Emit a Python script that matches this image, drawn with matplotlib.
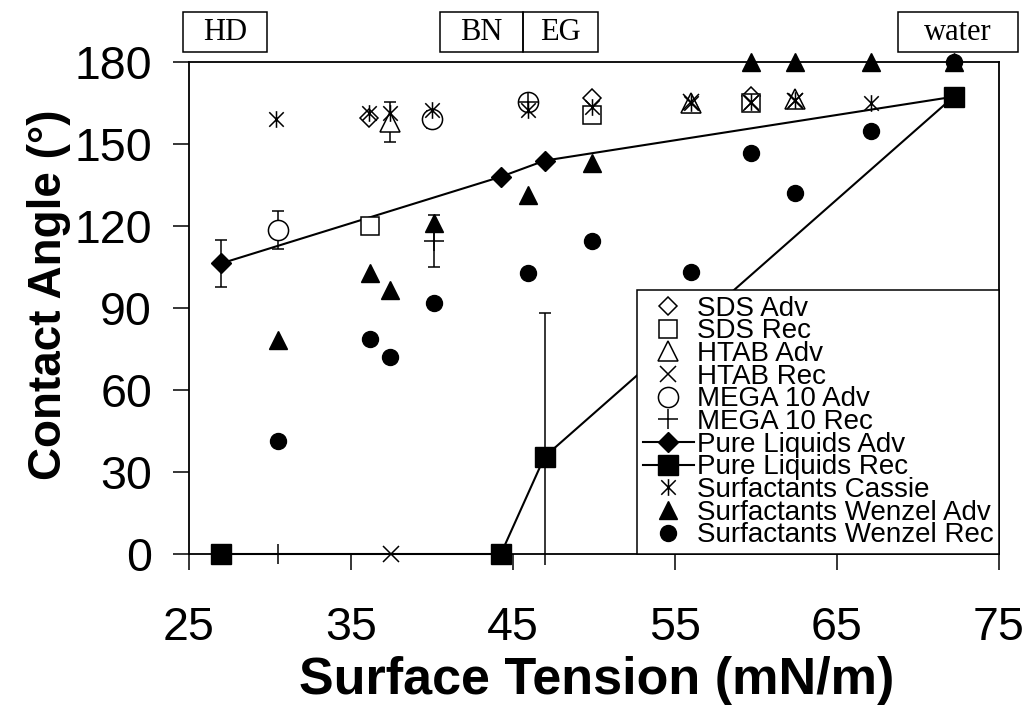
import matplotlib
matplotlib.use("Agg")
import numpy as np
import matplotlib.pyplot as plt
import matplotlib.transforms as mtransforms
from matplotlib.path import Path
from matplotlib.patches import Rectangle

plt.rcParams["font.family"] = ["Liberation Sans", "DejaVu Sans"]

# pure liquids (hexadecane, bromonaphthalene, ethylene glycol, water)
pure_x = [27.0, 44.25, 46.95, 72.2]
pure_adv = [106.4, 138.1, 144.0, 167.4]
pure_adv_err = [8.5, 0, 0, 0]
pure_rec = [0, 0, 35.6, 167.4]
pure_rec_err_lo = [0, 0, 39.6, 0]
pure_rec_err_hi = [0, 0, 52.5, 0]

# surfactant solutions
sds_adv_x = [36.1, 49.9, 59.7]
sds_adv = [159.5, 166.8, 167.5]
sds_rec_x = [36.2, 49.9, 59.7]
sds_rec = [120.0, 160.7, 165.0]
htab_adv_x = [37.4, 56.0, 62.4]
htab_adv = [158.2, 165.0, 166.5]
htab_adv_err = [7.4, 0, 0]
htab_rec_x = [37.5, 56.0, 59.7, 62.4]
htab_rec = [0, 165.5, 165.0, 166.0]
mega_adv_x = [30.5, 40.0, 45.9]
mega_adv = [118.6, 159.1, 165.6]
mega_adv_err = [7.0, 3.0, 2.5]
mega_rec_x = [30.5, 40.1, 45.9]
mega_rec = [0, 114.5, 165.5]
mega_rec_err = [0, 9.5, 0]
cassie_x = [30.4, 36.1, 37.4, 40.0, 45.9, 49.9, 56.0, 59.7, 62.4, 67.1]
cassie = [159.1, 161.3, 161.3, 162.5, 162.5, 163.7, 165.0, 165.6, 166.2, 165.0]
wenzel_x = [30.5, 36.2, 37.4, 40.1, 45.9, 49.9, 56.0, 59.7, 62.4, 67.1, 72.2]
wenzel_adv = [78.3, 102.9, 96.6, 121.0, 131.4, 143.0, 165.0, 180, 180, 180, 180]
wenzel_rec = [41.4, 78.6, 72.2, 92.0, 102.7, 114.7, 103.3, 146.7, 132.3, 155.0, 180]

# liquid name boxes above the plot (x extent of each box)
liquid_names = ["HD", "BN", "EG", "water"]
box_left = [24.63, 40.49, 45.62, 68.77]
box_right = [29.81, 45.62, 50.25, 76.17]

fig = plt.figure(figsize=(10.28, 7.09), dpi=100)
ax = fig.add_axes([0.18385, 0.21862, 0.78794, 0.69351])

star = Path([(-1, -1), (1, 1), (-1, 1), (1, -1), (0, -1.15), (0, 1.15)],
            [Path.MOVETO, Path.LINETO, Path.MOVETO, Path.LINETO, Path.MOVETO, Path.LINETO])

ekw = dict(fmt="none", ecolor="black", elinewidth=1.1, capsize=4.5, capthick=1.1, clip_on=False, zorder=2)


def errs(x, y, e):
    x, y, e = np.array(x), np.array(y), np.array(e)
    m = e > 0
    return x[m], y[m], e[m]


# error bars
for xs, ys, es in [(pure_x, pure_adv, pure_adv_err), (htab_adv_x, htab_adv, htab_adv_err),
                   (mega_adv_x, mega_adv, mega_adv_err), (mega_rec_x, mega_rec, mega_rec_err)]:
    ex, ey, ee = errs(xs, ys, es)
    ax.errorbar(ex, ey, yerr=ee, **ekw)
lo = np.array(pure_rec_err_lo)
hi = np.array(pure_rec_err_hi)
m = hi > 0
px = np.array(pure_x)[m]
py = np.array(pure_rec)[m]
ax.errorbar(px, py, yerr=[lo[m], hi[m]], fmt="none", ecolor="black", elinewidth=1.1, capsize=0, clip_on=False, zorder=2)
ax.plot(px, py + hi[m], marker="_", ms=9, mew=1.1, color="black", ls="none", clip_on=False, zorder=2)

open_kw = dict(ls="none", mfc="white", mec="black", mew=1.1, clip_on=False, zorder=4)
fill_kw = dict(ls="none", color="black", clip_on=False, zorder=3)

h = []
h += ax.plot(sds_adv_x, sds_adv, marker="D", ms=9.5, label="SDS Adv", **open_kw)
h += ax.plot(sds_rec_x, sds_rec, marker="s", ms=13.5, label="SDS Rec", **open_kw)
h += ax.plot(htab_adv_x, htab_adv, marker="^", ms=14, label="HTAB Adv", **open_kw)
h += ax.plot(htab_rec_x, htab_rec, marker="x", ms=12, mew=1.1, color="black", ls="none",
             clip_on=False, zorder=5, label="HTAB Rec")
h += ax.plot(mega_adv_x, mega_adv, marker="o", ms=14.5, label="MEGA 10 Adv", **open_kw)
h += ax.plot(mega_rec_x, mega_rec, marker="+", ms=14, mew=1.1, color="black", ls="none",
             clip_on=False, zorder=5, label="MEGA 10 Rec")
h += ax.plot(pure_x, pure_adv, marker="D", ms=10, color="black", lw=1.5, clip_on=False, zorder=3,
             label="Pure Liquids Adv")
h += ax.plot(pure_x, pure_rec, marker="s", ms=15, color="black", lw=1.5, clip_on=False, zorder=3,
             label="Pure Liquids Rec")
h += ax.plot(cassie_x, cassie, marker=star, ms=12, mew=1.1, mec="black", mfc="none", ls="none",
             clip_on=False, zorder=6, label="Surfactants Cassie")
h += ax.plot(wenzel_x, wenzel_adv, marker="^", ms=12.5, label="Surfactants Wenzel Adv", **fill_kw)
h += ax.plot(wenzel_x, wenzel_rec, marker="o", ms=11.5, label="Surfactants Wenzel Rec", **fill_kw)

ax.set_xlim(25, 75)
ax.set_ylim(0, 180)
ax.set_xticks(np.arange(25, 76, 10))
ax.set_yticks(np.arange(0, 181, 30))
ax.tick_params(direction="out", length=11.5, width=1.1, labelsize=33.5)
ax.tick_params(axis="x", pad=26)
ax.tick_params(axis="y", pad=15)
for s in ax.spines.values():
    s.set_linewidth(1.3)

ax.set_xlabel("Surface Tension (mN/m)", fontsize=37.5, fontweight="bold")
ax.xaxis.set_label_coords(0.503, -0.208)
ax.set_ylabel("Contact Angle (°)", fontsize=33, fontweight="bold")
ax.yaxis.set_label_coords(-0.146, 0.527)

leg = ax.legend(handles=h, loc="lower right", bbox_to_anchor=(1, 0), borderaxespad=0,
                fontsize=20, labelspacing=-0.12, handlelength=1.85, handletextpad=0.1,
                borderpad=0.2, frameon=True, fancybox=False, edgecolor="black", framealpha=1)
leg.get_frame().set_linewidth(1.1)

trans = mtransforms.blended_transform_factory(ax.transData, ax.transAxes)
for name, x0, x1 in zip(liquid_names, box_left, box_right):
    ax.add_patch(Rectangle((x0, 1.02), x1 - x0, 0.082, transform=trans, fill=False,
                           ec="black", lw=1.1, clip_on=False))
    ax.text((x0 + x1) / 2, 1.061, name, transform=trans, ha="center", va="center",
            fontsize=22, family=["Liberation Serif", "DejaVu Serif"])

fig.savefig("out.png", dpi=100)
